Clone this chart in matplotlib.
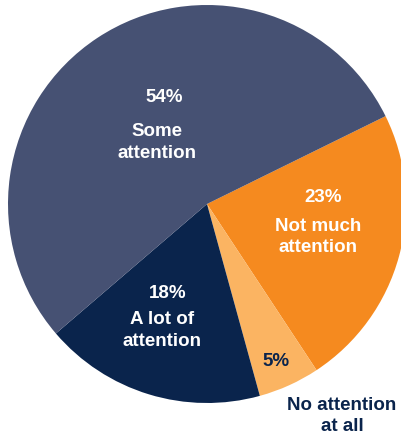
import matplotlib
matplotlib.use("Agg")
import matplotlib.pyplot as plt

categories = ["Not much attention", "No attention at all", "A lot of attention", "Some attention"]
values = [23, 5, 18, 54]
pct_labels = ["23%", "5%", "18%", "54%"]
colors = ["#F58A1F", "#FBB462", "#0A244C", "#465173"]

W, H = 401, 439
fig = plt.figure(figsize=(W / 100, H / 100), dpi=100)
ax = fig.add_axes([0, 0, 1, 1])

cx, cy, R = 207, H - 205, 199
ax.pie(values, colors=colors, startangle=26.2, counterclock=False,
       center=(cx, cy), radius=R, frame=True,
       wedgeprops=dict(linewidth=0))
ax.set_xlim(0, W)
ax.set_ylim(0, H)
ax.set_aspect("equal")
ax.axis("off")

font = dict(family=["Liberation Sans", "DejaVu Sans"], fontweight="bold", fontsize=13.5,
            ha="center", va="center")
white = "white"
navy = "#0A244C"

def t(x, y, s, c, **kw):
    ax.text(x, H - y, s, color=c, **font, **kw)

# Some attention
t(164, 97, pct_labels[3], white)
t(157, 142.5, "Some\nattention", white, linespacing=1.38)
# Not much attention
t(323, 198, pct_labels[0], white)
t(318, 237, "Not much\nattention", white, linespacing=1.38)
# A lot of attention
t(168, 293, pct_labels[2], white)
t(162, 330.5, "A lot of\nattention", white, linespacing=1.38)
# No attention at all
t(276, 362, pct_labels[1], navy)
t(342, 416, "No attention\nat all", navy, linespacing=1.38)

fig.savefig("out.png", dpi=100, facecolor="white")
